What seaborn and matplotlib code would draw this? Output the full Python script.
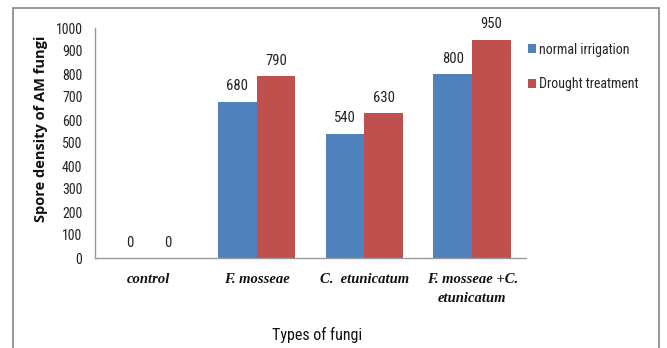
import matplotlib
matplotlib.use("Agg")
import matplotlib.pyplot as plt
import matplotlib.patches as mpatches
from matplotlib import font_manager
import seaborn as sns
import pandas as pd

# Spore density per inoculation type and water regime
fungi_types = ["control", "F. mosseae", "C.  etunicatum", "F. mosseae +C.\netunicatum"]
normal_irrigation = [0, 680, 540, 800]
drought_treatment = [0, 790, 630, 950]
treatments = ["normal irrigation", "Drought treatment"]
y_ticks = list(range(0, 1001, 100))

df = pd.DataFrame({
    "fungi": fungi_types * 2,
    "density": normal_irrigation + drought_treatment,
    "treatment": [treatments[0]] * 4 + [treatments[1]] * 4,
})

sns.set_theme(style="white")
names = {f.name for f in font_manager.fontManager.ttflist}
preferred = ["Liberation Sans Narrow", "Roboto Condensed", "Noto Sans Condensed",
             "Open Sans Condensed", "Lato"]
sans = next((n for n in preferred if n in names), "DejaVu Sans")
plt.rcParams["font.family"] = [sans, "DejaVu Sans"]

fig = plt.figure(figsize=(6.67, 3.48), dpi=100)
ax = fig.add_axes([95 / 667, 1 - 258 / 348, (526 - 95) / 667, (258 - 28) / 348])

sns.barplot(data=df, x="fungi", y="density", hue="treatment",
            palette=["#4F81BD", "#C0504D"], width=0.72, gap=0,
            saturation=1, linewidth=0, ax=ax, legend=True)

for cont in ax.containers:
    ax.bar_label(cont, fmt="%d", padding=6, fontsize=10.5, color="#222222")

ax.set_xlim(-0.5, 3.5)
ax.set_ylim(0, 1000)
ax.set_yticks(y_ticks)
ax.set_yticklabels([str(v) for v in y_ticks], fontsize=10, color="#222222")
ax.tick_params(axis="both", length=0)
ax.tick_params(axis="y", pad=9)
ax.tick_params(axis="x", pad=11)
for lab in ax.get_xticklabels():
    lab.set_fontfamily("Liberation Serif")
    lab.set_fontstyle("italic")
    lab.set_fontweight("bold")
    lab.set_fontsize(10.5)
    lab.set_linespacing(1.6)
    lab.set_color("#111111")

for side in ["top", "right"]:
    ax.spines[side].set_visible(False)
for side in ["left", "bottom"]:
    ax.spines[side].set_color("#999999")
    ax.spines[side].set_linewidth(1)

ax.set_ylabel("Spore density of AM fungi", fontsize=10.5, fontweight="bold",
              family=["Open Sans", "DejaVu Sans"], color="#111111")
ax.yaxis.set_label_coords(-0.11, 0.56)
ax.set_xlabel("Types of fungi", fontsize=11.5, color="#111111")
ax.xaxis.set_label_coords((317 - 95) / 431, -(327 - 258) / 230)

handles, labels = ax.get_legend_handles_labels()
ax.get_legend().remove()
fig.legend(handles, labels, loc="upper left",
           bbox_to_anchor=(522 / 667, 1 - 37 / 348), frameon=False,
           fontsize=10, handlelength=0.6, handleheight=0.6,
           handletextpad=0.25, labelspacing=1.5, borderaxespad=0)

# Outer frame around the chart area
fig.patches.append(mpatches.Rectangle((13 / 667, -0.02), (659 - 13) / 667, 1 - 8 / 348 + 0.02,
                                      transform=fig.transFigure, fill=False,
                                      edgecolor="#888888", linewidth=1.2))

fig.savefig("out.png", dpi=100)
